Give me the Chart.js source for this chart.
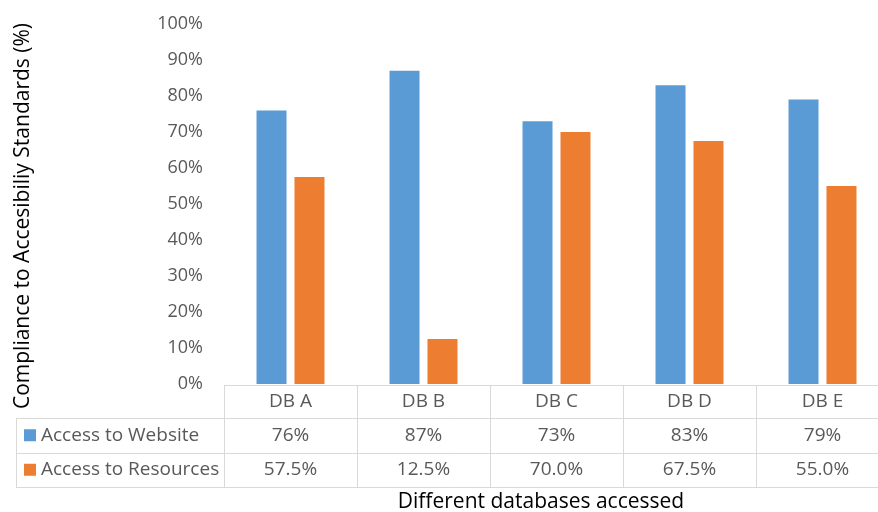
<!DOCTYPE html>
<html>
<head>
<meta charset="utf-8">
<script src="https://cdn.jsdelivr.net/npm/chart.js@4"></script>
<style>
html,body{margin:0;padding:0;background:#fff;overflow:hidden;}
#wrap{position:relative;width:900px;height:512px;}
</style>
</head>
<body>
<div id="wrap"><canvas id="c"></canvas></div>
<script>
const categories = ['DB A', 'DB B', 'DB C', 'DB D', 'DB E'];
const seriesNames = ['Access to Website', 'Access to Resources'];
const websiteValues = [76, 87, 73, 83, 79];
const resourceValues = [57.5, 12.5, 70.0, 67.5, 55.0];
const websiteLabels = ['76%', '87%', '73%', '83%', '79%'];
const resourceLabels = ['57.5%', '12.5%', '70.0%', '67.5%', '55.0%'];
const yTickValues = [0, 10, 20, 30, 40, 50, 60, 70, 80, 90, 100];
const xTitle = 'Different databases accessed';
const yTitle = 'Compliance to Accesibiliy Standards (%)';

const colors = ['#5B9BD5', '#ED7D31'];
const FONT = "'Open Sans', sans-serif";

const tablePlugin = {
  id: 'dataTable',
  afterDraw(chart) {
    const ctx = chart.ctx;
    const ca = chart.chartArea;
    const xs = chart.scales.x;
    const n = categories.length;
    const cw = (ca.right - ca.left) / n;
    const tableLeft = 16;
    const y0 = ca.bottom + 1, y1 = y0 + 33, y2 = y1 + 34.5, y3 = y2 + 34.5;
    ctx.save();
    ctx.strokeStyle = '#D9D9D9';
    ctx.lineWidth = 1;
    ctx.beginPath();
    const hl = (xa, xb, y) => { ctx.moveTo(xa, Math.round(y) + 0.5); ctx.lineTo(xb, Math.round(y) + 0.5); };
    const vl = (x, ya, yb) => { ctx.moveTo(Math.round(x) + 0.5, ya); ctx.lineTo(Math.round(x) + 0.5, yb); };
    hl(ca.left, ca.right, y0);
    hl(tableLeft, ca.right, y1);
    hl(tableLeft, ca.right, y2);
    hl(tableLeft, ca.right, y3);
    vl(tableLeft, y1, y3);
    for (let i = 0; i <= n; i++) vl(ca.left + i * cw, y0, y3);
    ctx.stroke();

    ctx.fillStyle = '#595959';
    ctx.font = '19px ' + FONT;
    ctx.textAlign = 'center';
    ctx.textBaseline = 'middle';
    const rowsText = [websiteLabels, resourceLabels];
    categories.forEach((c, i) => {
      const cx = xs.getPixelForValue(i);
      ctx.fillText(c, cx, (y0 + y1) / 2);
      ctx.fillText(rowsText[0][i], cx, (y1 + y2) / 2);
      ctx.fillText(rowsText[1][i], cx, (y2 + y3) / 2);
    });
    ctx.textAlign = 'left';
    [[y1, y2], [y2, y3]].forEach((r, k) => {
      const cy = (r[0] + r[1]) / 2;
      ctx.fillStyle = colors[k];
      ctx.fillRect(24, cy - 6, 12, 12);
      ctx.fillStyle = '#595959';
      ctx.fillText(seriesNames[k], 41, cy);
    });

    ctx.fillStyle = '#000000';
    ctx.font = '21px ' + FONT;
    ctx.textAlign = 'center';
    ctx.fillText(xTitle, 541, 502);

    ctx.translate(23, 216);
    ctx.rotate(-Math.PI / 2);
    ctx.fillText(yTitle, 0, 0);
    ctx.restore();
  }
};

new Chart(document.getElementById('c'), {
  type: 'bar',
  data: {
    labels: categories,
    datasets: [
      { label: seriesNames[0], data: websiteValues, backgroundColor: colors[0], categoryPercentage: 0.571, barPercentage: 0.79 },
      { label: seriesNames[1], data: resourceValues, backgroundColor: colors[1], categoryPercentage: 0.571, barPercentage: 0.79 }
    ]
  },
  options: {
    responsive: true,
    maintainAspectRatio: false,
    animation: false,
    layout: { padding: { left: 0, right: 11, top: 24, bottom: 128 } },
    plugins: { legend: { display: false }, tooltip: { enabled: false } },
    scales: {
      x: {
        display: false,
        grid: { display: false },
        border: { display: false },
        ticks: { display: false }
      },
      y: {
        min: 0,
        max: 100,
        afterBuildTicks(scale) { scale.ticks = yTickValues.map(v => ({ value: v })); },
        afterFit(scale) { scale.width = 224; scale.paddingTop = 0; scale.paddingBottom = 0; },
        grid: { display: false, drawTicks: false },
        border: { display: false },
        ticks: {
          padding: 21,
          color: '#595959',
          font: { family: FONT, size: 18 },
          callback: v => v + '%'
        },
        title: { display: false }
      }
    }
  },
  plugins: [tablePlugin]
});
</script>
</body>
</html>
